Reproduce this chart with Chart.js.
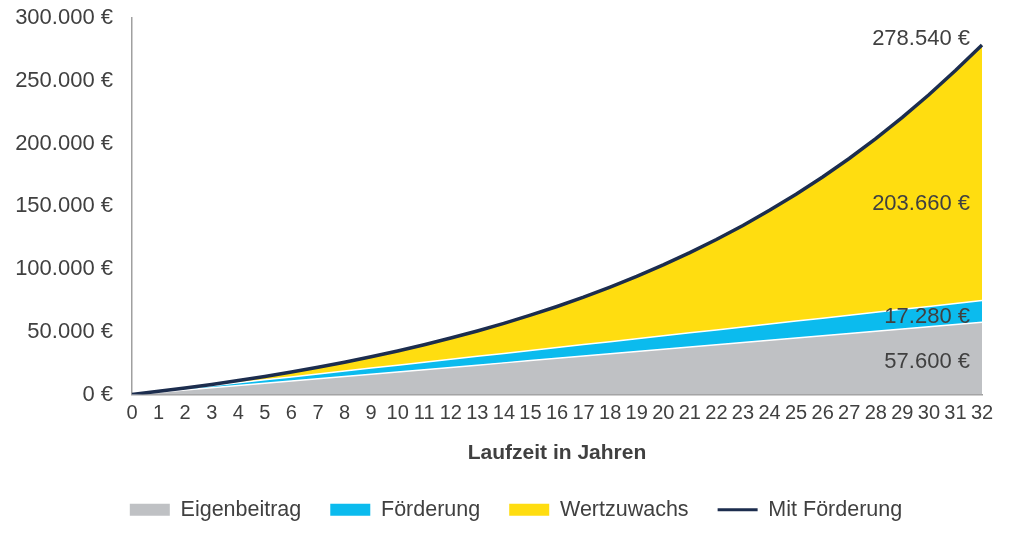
<!DOCTYPE html>
<html>
<head>
<meta charset="utf-8">
<script src="https://cdn.jsdelivr.net/npm/chart.js@4"></script>
<style>
  html, body { margin: 0; padding: 0; background: #fff; }
  #wrap { width: 1024px; height: 537px; }
</style>
</head>
<body>
<div id="wrap"><canvas id="myChart"></canvas></div>
<script>
// Laufzeit in Jahren
var jahre = ['0','1','2','3','4','5','6','7','8','9','10','11','12','13','14','15','16',
    '17','18','19','20','21','22','23','24','25','26','27','28','29','30','31','32'];

var eigenbeitrag = [0, 1800, 3600, 5400, 7200, 9000, 10800, 12600, 14400, 16200, 18000,
    19800, 21600, 23400, 25200, 27000, 28800, 30600, 32400, 34200, 36000, 37800, 39600,
    41400, 43200, 45000, 46800, 48600, 50400, 52200, 54000, 55800, 57600];

var foerderung = [0, 540, 1080, 1620, 2160, 2700, 3240, 3780, 4320, 4860, 5400, 5940,
    6480, 7020, 7560, 8100, 8640, 9180, 9720, 10260, 10800, 11340, 11880, 12420, 12960,
    13500, 14040, 14580, 15120, 15660, 16200, 16740, 17280];

var wertzuwachs = [0, 200, 500, 1000, 1800, 2700, 3900, 5300, 7000, 9000, 11300, 13900,
    16900, 20200, 23900, 28100, 32700, 37800, 43500, 49700, 56500, 63900, 72000, 80900,
    90600, 101100, 112500, 124900, 138300, 152900, 168600, 185600, 203660];

var mitFoerderung = [0, 2540, 5180, 8020, 11160, 14400, 17940, 21680, 25720, 30060, 34700,
    39640, 44980, 50620, 56660, 63200, 70140, 77580, 85620, 94160, 103300, 113040, 123480,
    134720, 146760, 159600, 173340, 188080, 203820, 220760, 238800, 258140, 278540];

var yTicks = [0, 50000, 100000, 150000, 200000, 250000, 300000];

var FONT = "'Liberation Sans', Arial, sans-serif";
var TEXT = '#404040';

function euro(v) {
    return String(Math.round(v)).replace(/\B(?=(\d{3})+(?!\d))/g, '.') + ' €';
}

// Wertlabels rechts im Chart
var endLabels = {
    id: 'endLabels',
    beforeDraw: function (chart) {
        // Legende etwas nach rechts, wie im Original
        if (chart.legend) chart.legend.left = 50;
    },
    afterDatasetsDraw: function (chart) {
        var ctx = chart.ctx;
        var xs = chart.scales.x, ys = chart.scales.y;
        var last = jahre.length - 1;
        var at = last - 2;
        var xr = xs.getPixelForValue(last) - 12;
        var g = eigenbeitrag[at], f = foerderung[at], t = mitFoerderung[at];
        ctx.save();
        ctx.font = '22px ' + FONT;
        ctx.fillStyle = TEXT;
        ctx.textAlign = 'right';
        ctx.textBaseline = 'middle';
        ctx.fillText(euro(mitFoerderung[last]), xr, ys.getPixelForValue(mitFoerderung[last]) - 6);
        ctx.fillText(euro(wertzuwachs[last]), xr, ys.getPixelForValue((g + f + t) / 2) + 3);
        ctx.fillText(euro(foerderung[last]), xr, ys.getPixelForValue(g + f / 2));
        ctx.fillText(euro(eigenbeitrag[last]), xr, ys.getPixelForValue(g / 2) + 1);
        ctx.restore();
    }
};

var ctx = document.getElementById('myChart').getContext('2d');
var myChart = new Chart(ctx, {
    type: 'line',
    data: {
        labels: jahre,
        datasets: [{
            label: 'Eigenbeitrag',
            data: eigenbeitrag,
            backgroundColor: '#bfc1c4',
            borderColor: '#ffffff',
            borderWidth: 1.5,
            fill: 'origin',
            stack: 'flaeche',
            order: 1
        }, {
            label: 'Förderung',
            data: foerderung,
            backgroundColor: '#0bbbee',
            borderColor: '#ffffff',
            borderWidth: 1.5,
            fill: '-1',
            stack: 'flaeche',
            order: 1
        }, {
            label: 'Wertzuwachs',
            data: wertzuwachs,
            backgroundColor: '#ffdd10',
            borderColor: '#ffdd10',
            borderWidth: 0,
            fill: '-1',
            stack: 'flaeche',
            order: 1
        }, {
            label: 'Mit Förderung',
            data: mitFoerderung,
            backgroundColor: '#1c2d4e',
            borderColor: '#1c2d4e',
            borderWidth: 3.5,
            fill: false,
            stack: 'linie',
            order: 0
        }]
    },
    options: {
        responsive: true,
        maintainAspectRatio: false,
        animation: false,
        elements: { point: { radius: 0, hoverRadius: 0 }, line: { tension: 0 } },
        layout: { padding: { left: 0, right: 42, top: 18, bottom: 6.5 } },
        plugins: {
            tooltip: { enabled: false },
            legend: {
                position: 'bottom',
                labels: {
                    font: { family: FONT, size: 21.5 },
                    color: TEXT,
                    usePointStyle: true,
                    pointStyleWidth: 40,
                    boxHeight: 12,
                    padding: 29,
                    generateLabels: function (chart) {
                        var items = Chart.defaults.plugins.legend.labels.generateLabels(chart);
                        items.sort(function (a, b) { return a.datasetIndex - b.datasetIndex; });
                        items.forEach(function (it) {
                            var ds = chart.data.datasets[it.datasetIndex];
                            if (ds.fill === false) {
                                it.pointStyle = 'line';
                                it.lineWidth = 3;
                                it.strokeStyle = ds.borderColor;
                            } else {
                                it.pointStyle = 'rect';
                                it.lineWidth = 0;
                                it.fillStyle = ds.backgroundColor;
                            }
                        });
                        return items;
                    }
                }
            }
        },
        scales: {
            x: {
                grid: { display: false, drawTicks: false },
                border: { display: true, color: '#a0a0a0', width: 1.5 },
                ticks: {
                    autoSkip: false,
                    maxRotation: 0,
                    padding: 7,
                    color: TEXT,
                    font: { family: FONT, size: 20 }
                },
                title: {
                    display: true,
                    text: 'Laufzeit in Jahren',
                    color: TEXT,
                    font: { family: FONT, size: 21, weight: 'bold' },
                    padding: { top: 4, bottom: 4 }
                },
                afterFit: function (scale) { scale.height = 75.5; }
            },
            y: {
                stacked: true,
                min: 0,
                max: 300000,
                grid: { display: false, drawTicks: false },
                border: { display: true, color: '#a0a0a0', width: 1.5 },
                afterBuildTicks: function (scale) {
                    scale.ticks = yTicks.map(function (v) { return { value: v }; });
                },
                ticks: {
                    padding: 19,
                    color: TEXT,
                    font: { family: FONT, size: 22 },
                    callback: function (v) { return euro(v); }
                },
                afterFit: function (scale) {
                    scale.width = 132;
                    scale.paddingTop = 12;
                    scale.paddingBottom = 12;
                }
            }
        }
    },
    plugins: [endLabels]
});
</script>
</body>
</html>
